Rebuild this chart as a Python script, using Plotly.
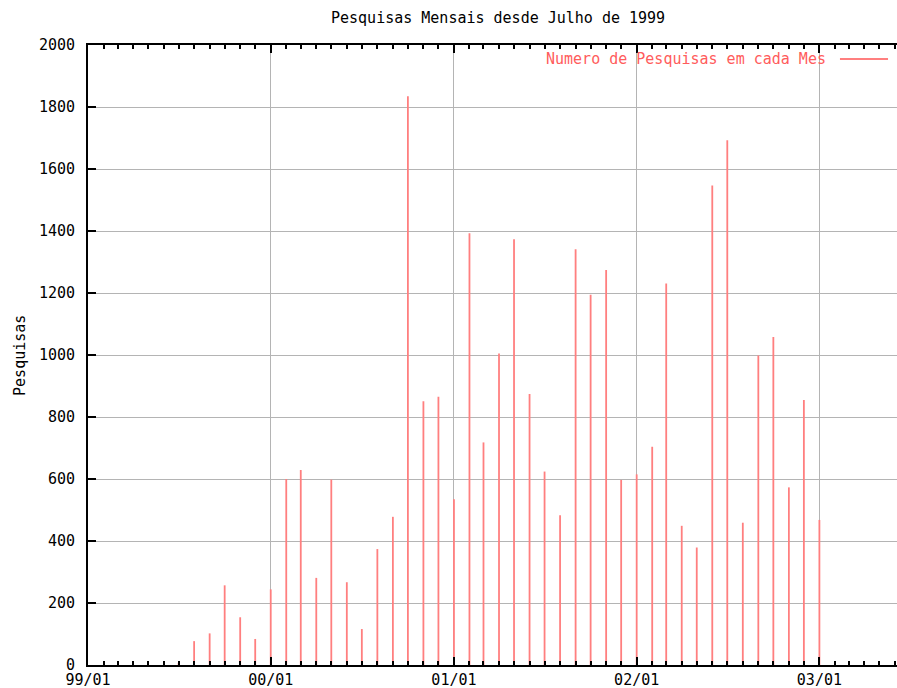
import plotly.graph_objects as go

# Monthly data (first day of month) from July 1999 to January 2003
months = [
    "1999-07-01", "1999-08-01", "1999-09-01", "1999-10-01", "1999-11-01", "1999-12-01",
    "2000-01-01", "2000-02-01", "2000-03-01", "2000-04-01", "2000-05-01", "2000-06-01",
    "2000-07-01", "2000-08-01", "2000-09-01", "2000-10-01", "2000-11-01", "2000-12-01",
    "2001-01-01", "2001-02-01", "2001-03-01", "2001-04-01", "2001-05-01", "2001-06-01",
    "2001-07-01", "2001-08-01", "2001-09-01", "2001-10-01", "2001-11-01", "2001-12-01",
    "2002-01-01", "2002-02-01", "2002-03-01", "2002-04-01", "2002-05-01", "2002-06-01",
    "2002-07-01", "2002-08-01", "2002-09-01", "2002-10-01", "2002-11-01", "2002-12-01",
    "2003-01-01",
]
searches = [
    7, 77, 102, 257, 154, 84,
    244, 600, 629, 281, 598, 267,
    116, 374, 478, 1835, 851, 865,
    535, 1393, 718, 1005, 1373, 874,
    624, 483, 1341, 1194, 1274, 597,
    615, 704, 1231, 449, 379, 1547,
    1693, 459, 998, 1058, 573, 855,
    468,
]

title_text = "Pesquisas Mensais desde Julho de 1999"
legend_text = "Numero de Pesquisas em cada Mes"
y_title = "Pesquisas"
x_range = ["1999-01-01", "2003-06-05"]

FONT = "DejaVu Sans Mono"
FS = 15
BAR_COLOR = "#ff7f7f"
GRID = "#b4b4b4"

# impulses: vertical line from 0 to value at each month
xs, ys = [], []
for m, v in zip(months, searches):
    xs += [m, m, None]
    ys += [0, v, None]

fig = go.Figure()
fig.add_trace(go.Scatter(
    x=xs, y=ys, mode="lines",
    line=dict(color=BAR_COLOR, width=1.8),
    name=legend_text, showlegend=False, hoverinfo="skip",
))

fig.update_layout(
    width=897, height=688,
    margin=dict(l=88, r=0, t=45, b=23, autoexpand=False),
    paper_bgcolor="white", plot_bgcolor="white",
    font=dict(family=FONT, size=FS, color="black"),
    showlegend=False,
)

fig.update_xaxes(
    type="date", range=x_range, automargin=False,
    tick0="1999-01-01", dtick="M12", tickformat="%y/%m",
    ticks="inside", ticklen=8, tickwidth=1.5, tickcolor="black",
    showgrid=True, gridcolor=GRID, gridwidth=1,
    showline=True, linecolor="black", linewidth=2, mirror="ticks",
    minor=dict(dtick="M1", tick0="1999-01-01", ticks="inside", ticklen=4,
               tickwidth=1.5, tickcolor="black", showgrid=False),
    tickfont=dict(family=FONT, size=FS, color="black"),
    ticklabelstandoff=0,
    zeroline=False,
)
fig.update_yaxes(
    range=[0, 2000], dtick=200, tick0=0, automargin=False,
    ticks="inside", ticklen=8, tickwidth=1.5, tickcolor="black",
    showgrid=True, gridcolor=GRID, gridwidth=1,
    showline=True, linecolor="black", linewidth=2, mirror=False,
    tickfont=dict(family=FONT, size=FS, color="black"),
    ticklabelstandoff=8,
    zeroline=False,
)

fig.add_annotation(
    text=title_text, xref="paper", yref="paper",
    x=0.5068, y=1.0435, xanchor="center", yanchor="middle",
    showarrow=False, font=dict(family=FONT, size=FS, color="black"),
)
fig.add_annotation(
    text=y_title, xref="paper", yref="paper",
    x=-0.0841, y=0.5, xanchor="center", yanchor="middle", textangle=-90,
    showarrow=False, font=dict(family=FONT, size=FS, color="black"),
)
# legend entry (text then line sample, gnuplot style)
fig.add_annotation(
    text=legend_text, xref="paper", yref="paper",
    x=0.9147, y=0.9774, xanchor="right", yanchor="middle",
    showarrow=False, font=dict(family=FONT, size=FS, color="#ff5c5c"),
)
fig.add_shape(
    type="line", xref="paper", yref="paper",
    x0=0.9295, x1=0.9889, y0=0.9774, y1=0.9774,
    line=dict(color=BAR_COLOR, width=1.8),
)

fig.write_html(
    "out.html",
    config={"displayModeBar": False},
    post_script="document.body.style.margin='0';document.body.style.overflow='hidden';"
                "document.documentElement.style.overflow='hidden';",
)
